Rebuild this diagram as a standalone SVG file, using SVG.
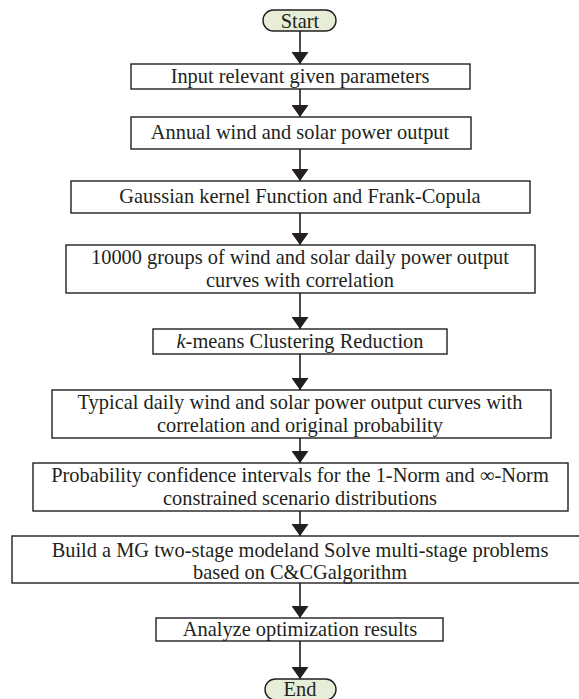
<svg xmlns="http://www.w3.org/2000/svg" width="579" height="699" viewBox="0 0 579 699">
<style>
.box{fill:#fff;stroke:#231f20;stroke-width:1.4}
.term{fill:#e6eed8;stroke:#231f20;stroke-width:1.4}
.t{font-family:"Liberation Serif","Times New Roman",serif;font-size:20.4px;fill:#231f20;text-anchor:middle}
.c{stroke:#231f20;stroke-width:1.6;fill:none}
</style>
<defs>
<marker id="ah" markerWidth="12" markerHeight="17" refX="12" refY="8.5" orient="auto" markerUnits="userSpaceOnUse">
<path d="M0,0 L12,8.5 L0,17 Z" fill="#231f20"/>
</marker>
</defs>
<rect width="579" height="699" fill="#fff"/>
<g id="connectors">
<line class="c" x1="300" y1="31" x2="300" y2="64" marker-end="url(#ah)"/>
<line class="c" x1="300" y1="89" x2="300" y2="117" marker-end="url(#ah)"/>
<line class="c" x1="300" y1="149" x2="300" y2="181" marker-end="url(#ah)"/>
<line class="c" x1="300" y1="213" x2="300" y2="245" marker-end="url(#ah)"/>
<line class="c" x1="300" y1="293" x2="300" y2="329" marker-end="url(#ah)"/>
<line class="c" x1="300" y1="354" x2="300" y2="390" marker-end="url(#ah)"/>
<line class="c" x1="300" y1="438" x2="300" y2="463" marker-end="url(#ah)"/>
<line class="c" x1="300" y1="511" x2="300" y2="536" marker-end="url(#ah)"/>
<line class="c" x1="300" y1="583" x2="300" y2="618" marker-end="url(#ah)"/>
<line class="c" x1="300" y1="641" x2="300" y2="679" marker-end="url(#ah)"/>
</g>
<g id="start">
<rect class="term" x="263" y="10" width="73" height="21" rx="10.5"/>
<text class="t" x="300" y="28">Start</text>
</g>
<g id="n1">
<rect class="box" x="131" y="64" width="339" height="25"/>
<text class="t" x="300" y="82.5">Input relevant given parameters</text>
</g>
<g id="n2">
<rect class="box" x="131" y="117" width="340" height="32"/>
<text class="t" x="300" y="139">Annual wind and solar power output</text>
</g>
<g id="n3">
<rect class="box" x="71" y="181" width="459" height="32"/>
<text class="t" x="300" y="203">Gaussian kernel Function and Frank-Copula</text>
</g>
<g id="n4">
<rect class="box" x="66" y="245" width="469" height="48"/>
<text class="t" x="300" y="264">10000 groups of wind and solar daily power output</text>
<text class="t" x="300" y="287">curves with correlation</text>
</g>
<g id="n5">
<rect class="box" x="153" y="329" width="294" height="25"/>
<text class="t" x="300" y="347.5"><tspan font-style="italic">k</tspan>-means Clustering Reduction</text>
</g>
<g id="n6">
<rect class="box" x="52" y="390" width="499" height="48"/>
<text class="t" x="300" y="408.5">Typical daily wind and solar power output curves with</text>
<text class="t" x="300" y="432">correlation and original probability</text>
</g>
<g id="n7">
<rect class="box" x="33" y="463" width="535" height="48"/>
<text class="t" x="300" y="482">Probability confidence intervals for the 1-Norm and ∞-Norm</text>
<text class="t" x="300" y="505">constrained scenario distributions</text>
</g>
<g id="n8">
<rect class="box" x="12" y="536" width="576" height="47"/>
<text class="t" x="300" y="557">Build a MG two-stage modeland Solve multi-stage problems</text>
<text class="t" x="300" y="579">based on C&amp;CGalgorithm</text>
</g>
<g id="n9">
<rect class="box" x="156" y="618" width="287" height="23"/>
<text class="t" x="300" y="636">Analyze optimization results</text>
</g>
<g id="end">
<rect class="term" x="265" y="679" width="71" height="21" rx="10.5"/>
<text class="t" x="300" y="696">End</text>
</g>
</svg>
